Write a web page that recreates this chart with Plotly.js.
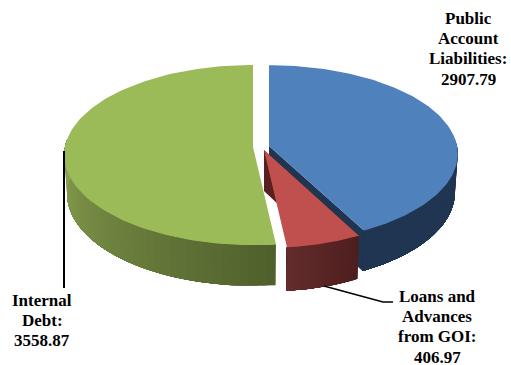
<!DOCTYPE html>
<html>
<head>
<meta charset="utf-8">
<script src="https://cdn.plot.ly/plotly-3.0.1.min.js"></script>
<style>html,body{margin:0;padding:0;background:#fff}#chart{width:511px;height:365px}</style>
</head>
<body>
<div id="chart"></div>
<script>
// Outstanding liabilities by source
const categories = ['Public Account Liabilities', 'Loans and Advances from GOI', 'Internal Debt'];
const values = [2907.79, 406.97, 3558.87];
const labelLines = [
  ['Public', 'Account', 'Liabilities:'],
  ['Loans and', 'Advances', 'from GOI:'],
  ['Internal', 'Debt:']
];

// Slice styling and placement on a 511 by 365 plotting plane
const topColors = ['#4f81bd', '#c0504d', '#9bbb59'];
const sideNear = ['#1f3552', '#4e1e1e', '#4f5f2c'];
const sideFar = ['#1f3552', '#642c2c', '#8ba451'];
const cutColors = ['#1f3552', '#5a1f20', '#4f5f2c'];
const apexX = [269, 264, 253];
const apexY = [146, 150, 147];
const flatten = [0.985, 1, 1];
const wallDepth = [38.5, 41, 38.5];
const labelX = [468, 437, 42];
const labelTop = [18, 296, 300];
const LINE_GAP = 20.2;

// Projection of the tilted disc
const RX = 188, RY = 89.3, PERSP = 0.089, SHRINK = 0.985;

function project(i, deg, r, lower) {
  const t = deg * Math.PI / 180;
  const X = r * Math.sin(t), Y = -r * Math.cos(t);
  const s = 1 / (1 - PERSP * Y);
  const k = lower ? SHRINK : 1;
  return [apexX[i] + RX * X * s * k,
          apexY[i] + RY * flatten[i] * Y * s * k + (lower ? wallDepth[i] * s : 0)];
}
function hex(c) { return [1, 3, 5].map(p => parseInt(c.substr(p, 2), 16)); }
function mix(a, b, f) {
  const A = hex(a), B = hex(b);
  return 'rgb(' + A.map((v, n) => Math.round(v + (B[n] - v) * f)).join(',') + ')';
}
function poly(points, color) {
  return {
    type: 'scatter', mode: 'lines', fill: 'toself', fillcolor: color,
    x: points.map(p => p[0]), y: points.map(p => p[1]),
    line: {color: color, width: 0}, hoverinfo: 'skip', showlegend: false
  };
}

const total = values.reduce((a, b) => a + b, 0);
const spans = [];
values.reduce((start, v) => {
  const end = start + v / total * 360;
  spans.push([start, end]);
  return end;
}, 0);

function wall(i, from, to, color) {
  const upper = [], lower = [];
  for (let n = 0; n <= 40; n++) {
    const t = from + (to - from) * n / 40;
    upper.push(project(i, t, 1, false));
    lower.unshift(project(i, t, 1, true));
  }
  return poly(upper.concat(lower), color);
}

function sliceTraces(i) {
  const [a, b] = spans[i];
  const out = [];
  // cut face along one radius
  const cutAngle = i === 1 ? a : b;
  out.push(poly([project(i, cutAngle, 0, false), project(i, cutAngle, 1, false),
                 project(i, cutAngle, 1, true), project(i, cutAngle, 0, true)], cutColors[i]));
  // outer wall: each shaded band is painted over the previous one so no seams show
  const lo = Math.max(a, 85), hi = Math.min(b, 275);
  const steps = 40;
  if (hi > lo) {
    for (let n = 0; n < steps; n++) {
      const t0 = lo + (hi - lo) * n / steps;
      out.push(wall(i, t0, hi, mix(sideNear[i], sideFar[i], (n + 0.5) / steps)));
    }
  }
  // top face
  const rim = [project(i, a, 0, false)];
  for (let n = 0; n <= 120; n++) rim.push(project(i, a + (b - a) * n / 120, 1, false));
  out.push(poly(rim, topColors[i]));
  return out;
}

// Leader lines run from the slices to their labels
const leaderX = [[64, 64], [324, 383, 393]];
const leaderY = [[151, 288], [286, 302, 302]];
const leaders = leaderX.map((x, n) => ({
  type: 'scatter', mode: 'lines', x: x, y: leaderY[n],
  line: {color: '#000', width: n === 0 ? 2 : 1.5}, hoverinfo: 'skip', showlegend: false
}));

const traces = [...sliceTraces(0), ...sliceTraces(2), ...sliceTraces(1), ...leaders];

// Each label line is placed on its own so the leading stays tight
const annotations = categories.flatMap((c, i) =>
  labelLines[i].concat(values[i].toFixed(2)).map((line, n) => ({
    x: labelX[i], y: labelTop[i] + n * LINE_GAP, xref: 'x', yref: 'y',
    showarrow: false, align: 'center', text: line, height: 16,
    font: {family: '"Liberation Serif", serif', size: 17, color: '#000', weight: 700}
  })));

Plotly.newPlot('chart', traces, {
  width: 511, height: 365, margin: {l: 0, r: 0, t: 0, b: 0},
  paper_bgcolor: '#fff', plot_bgcolor: '#fff', showlegend: false,
  xaxis: {range: [0, 511], visible: false, fixedrange: true},
  yaxis: {range: [365, 0], visible: false, fixedrange: true},
  annotations: annotations
}, {displayModeBar: false, staticPlot: true});
</script>
</body>
</html>
